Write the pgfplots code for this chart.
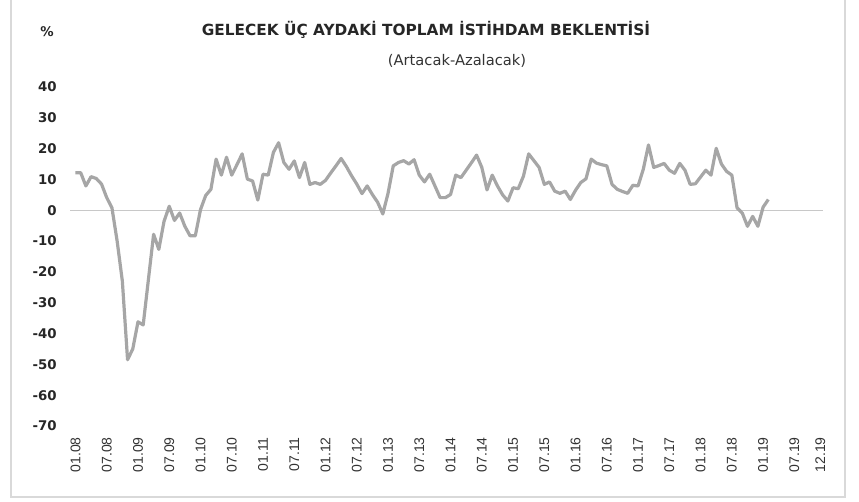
\documentclass[border=0pt]{standalone}
\usepackage{fontspec}
\setmainfont{Liberation Sans}
\newfontfamily\dvs{DejaVu Sans}
\usepackage{pgfplots}
\pgfplotsset{compat=1.18}
\definecolor{serie}{HTML}{A6A6A6}
\definecolor{sifir}{HTML}{C8C8C8}
\definecolor{cerceve}{HTML}{D9D9D9}
\definecolor{yazi}{HTML}{262626}
\definecolor{etiket}{HTML}{333333}

\pgfplotstableread{
i v
0 12.2
1 12.2
2 7.9
3 10.9
4 10.3
5 8.5
6 4.1
7 0.8
8 -10
9 -23
10 -48.5
11 -45
12 -36.2
13 -37.2
14 -22.5
15 -7.8
16 -12.7
17 -3.6
18 1.3
19 -3.3
20 -0.9
21 -5.2
22 -8.3
23 -8.3
24 0.2
25 4.8
26 6.8
27 16.6
28 11.4
29 17.2
30 11.4
31 14.8
32 18.3
33 10.1
34 9.5
35 3.3
36 11.7
37 11.4
38 18.8
39 21.9
40 15.5
41 13.3
42 16
43 10.6
44 15.5
45 8.4
46 9
47 8.4
48 9.7
49 12.1
50 14.4
51 16.8
52 14.2
53 11.2
54 8.5
55 5.4
56 7.9
57 5.1
58 2.6
59 -1.2
60 5.5
61 14.4
62 15.5
63 16.1
64 15
65 16.4
66 11.4
67 9.2
68 11.7
69 7.9
70 4.1
71 4.1
72 5.1
73 11.4
74 10.6
75 13
76 15.4
77 17.9
78 13.9
79 6.6
80 11.4
81 7.9
82 5
83 3
84 7.3
85 7
86 11.1
87 18.3
88 16.1
89 13.9
90 8.4
91 9.2
92 6.2
93 5.5
94 6.2
95 3.5
96 6.5
97 9
98 10.2
99 16.6
100 15.3
101 14.8
102 14.4
103 8.4
104 6.8
105 6.1
106 5.5
107 8.1
108 7.9
109 13.3
110 21.2
111 13.9
112 14.5
113 15.2
114 13
115 12
116 15.2
117 13
118 8.4
119 8.6
120 10.8
121 13
122 11.4
123 20.1
124 15
125 12.6
126 11.4
127 0.8
128 -0.9
129 -5.2
130 -2
131 -5.2
132 1
133 3.5
}\istihdam

\begin{document}
\begin{tikzpicture}[x=0.75pt,y=0.75pt]
\useasboundingbox (0,0) rectangle (859,502);
\draw[cerceve,line width=1.1pt] (11,503) -- (11,5) -- (845,5) -- (845,503);
\node[font=\dvs\bfseries\fontsize{11.5}{13}\selectfont,text=yazi] at (426,472) {GELECEK ÜÇ AYDAKİ TOPLAM İSTİHDAM BEKLENTİSİ};
\node[font=\dvs\fontsize{11}{13}\selectfont,text=etiket] at (457,441) {(Artacak-Azalacak)};
\node[font=\dvs\bfseries\fontsize{10}{12}\selectfont,text=yazi] at (47,470) {\%};
\begin{axis}[
  at={(52.5pt,57pt)}, anchor=south west,
  scale only axis, width=564.75pt, height=254.25pt,
  xmin=-1.05, xmax=143.5, ymin=-70, ymax=40,
  axis line style={draw=none}, major tick length=0pt,
  ytick={-70,-60,...,40},
  yticklabels={-70,-60,-50,-40,-30,-20,-10,0,10,20,30,40},
  yticklabel style={font=\dvs\bfseries\fontsize{10}{12}\selectfont,text=yazi,anchor=east,inner sep=0pt},
  yticklabel shift=9.75pt,
  xtick={0,6,...,138,143},
  xticklabels={01.08,07.08,01.09,07.09,01.10,07.10,01.11,07.11,01.12,07.12,01.13,07.13,01.14,07.14,01.15,07.15,01.16,07.16,01.17,07.17,01.18,07.18,01.19,07.19,12.19},
  xticklabel style={font=\fontsize{10.5}{12}\selectfont,text=etiket,rotate=90,anchor=east,inner sep=0pt},
  xticklabel shift=8.25pt,
  clip=false,
]
\addplot[sifir,line width=0.75pt] coordinates {(-1.05,0) (143.5,0)};
\addplot[serie,line width=2.4pt,line join=round] table[x=i,y=v] {\istihdam};
\end{axis}
\end{tikzpicture}
\end{document}
